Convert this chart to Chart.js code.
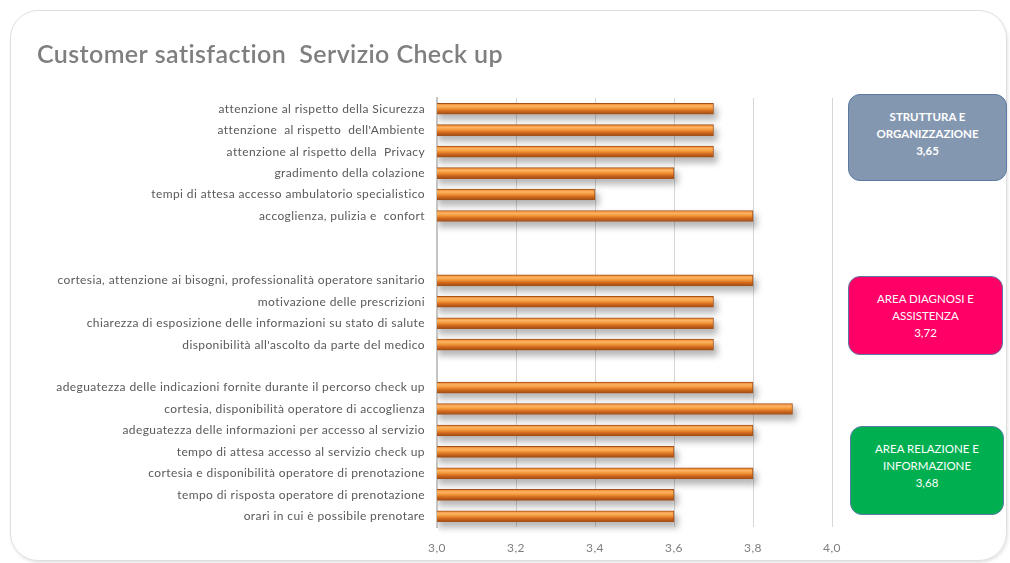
<!DOCTYPE html>
<html>
<head>
<meta charset="utf-8">
<script src="https://cdn.jsdelivr.net/npm/chart.js@4"></script>
<style>
  body { margin: 0; background: #fff; font-family: Lato, "Open Sans", sans-serif; }
  #wrap { position: relative; width: 1010px; height: 563px; overflow: hidden; }
  #frame {
    position: absolute; left: 10px; top: 10px; width: 995px; height: 549px;
    border: 1.5px solid #dedede; border-radius: 28px;
    box-shadow: 1px 2px 3px rgba(0,0,0,0.10);
  }
  #c { position: absolute; left: 0; top: 0; }
  .box {
    position: absolute; box-sizing: border-box; border: 1px solid #5b7aa3;
    border-radius: 12px; color: #fff; text-align: center;
    font-family: Lato, "Open Sans", sans-serif; font-size: 11.5px; line-height: 17px;
  }
</style>
</head>
<body>
<div id="wrap">
  <div id="frame"></div>
  <canvas id="c" width="1010" height="563"></canvas>
  <div class="box" style="left:848px;top:94px;width:159px;height:87px;background:#8497b0;font-weight:bold;padding-top:13px;">STRUTTURA E<br>ORGANIZZAZIONE<br>3,65</div>
  <div class="box" style="left:848px;top:276px;width:155px;height:79px;background:#ff0066;padding-top:13px;">AREA DIAGNOSI E<br>ASSISTENZA<br>3,72</div>
  <div class="box" style="left:850px;top:426px;width:154px;height:89px;background:#00b050;padding-top:13px;">AREA RELAZIONE E<br>INFORMAZIONE<br>3,68</div>
</div>
<script>
// rows from top to bottom, empty strings are the gaps between groups
var categories = [
  "attenzione al rispetto della Sicurezza",
  "attenzione  al rispetto  dell'Ambiente",
  "attenzione al rispetto della  Privacy",
  "gradimento della colazione",
  "tempi di attesa accesso ambulatorio specialistico",
  "accoglienza, pulizia e  confort",
  "",
  "",
  "cortesia, attenzione ai bisogni, professionalità operatore sanitario",
  "motivazione delle prescrizioni",
  "chiarezza di esposizione delle informazioni su stato di salute",
  "disponibilità all'ascolto da parte del medico",
  "",
  "adeguatezza delle indicazioni fornite durante il percorso check up",
  "cortesia, disponibilità operatore di accoglienza",
  "adeguatezza delle informazioni per accesso al servizio",
  "tempo di attesa accesso al servizio check up",
  "cortesia e disponibilità operatore di prenotazione",
  "tempo di risposta operatore di prenotazione",
  "orari in cui è possibile prenotare"
];
var values = [
  3.7, 3.7, 3.7, 3.6, 3.4, 3.8,
  null, null,
  3.8, 3.7, 3.7, 3.7,
  null,
  3.8, 3.9, 3.8, 3.6, 3.8, 3.6, 3.6
];
var xTicks = [3.0, 3.2, 3.4, 3.6, 3.8, 4.0];

function fmt(v) { return v.toFixed(1).replace(".", ","); }

// orange tube look: vertical gradient over each bar
function barFill(context) {
  var chart = context.chart;
  if (!chart.chartArea || !chart.scales.y) return "#f08a2c";
  var y = chart.scales.y.getPixelForValue(context.dataIndex);
  var g = chart.ctx.createLinearGradient(0, y - 5.5, 0, y + 5.5);
  g.addColorStop(0, "#ee7f22");
  g.addColorStop(0.25, "#fbb464");
  g.addColorStop(0.45, "#f59a3c");
  g.addColorStop(0.7, "#d36b1e");
  g.addColorStop(1, "#9c4a14");
  return g;
}

// spaced-out text like the original office export
var spacingPlugin = {
  id: "spacing",
  beforeDraw: function (chart) { chart.ctx.letterSpacing = "0.4px"; }
};

// soft grey shadow under every bar (bar draw clips, so paint it first)
var shadowPlugin = {
  id: "barShadow",
  beforeDatasetsDraw: function (chart) {
    var ctx = chart.ctx;
    var area = chart.chartArea;
    var meta = chart.getDatasetMeta(0);
    ctx.save();
    ctx.beginPath();
    ctx.rect(area.left + 1, area.top, area.right - area.left + 10, area.bottom - area.top + 10);
    ctx.clip();
    ctx.filter = "blur(3px)";
    ctx.fillStyle = "rgba(0,0,0,0.28)";
    meta.data.forEach(function (bar, i) {
      if (values[i] === null) return;
      var left = area.left;
      ctx.fillRect(left + 1, bar.y - 5.5 + 4, bar.x - left + 3, 13);
    });
    ctx.restore();
  }
};

new Chart(document.getElementById("c"), {
  type: "bar",
  data: {
    labels: categories,
    datasets: [{
      data: values,
      backgroundColor: barFill,
      borderColor: "#a4521a",
      borderWidth: 1,
      borderSkipped: false,
      barThickness: 11
    }]
  },
  plugins: [spacingPlugin, shadowPlugin],
  options: {
    indexAxis: "y",
    responsive: false,
    animation: false,
    layout: { padding: { left: 37, right: 178, top: 40, bottom: 0 } },
    plugins: {
      legend: { display: false },
      tooltip: { enabled: false },
      title: {
        display: true,
        text: "Customer satisfaction  Servizio Check up",
        align: "start",
        color: "#7f7f7f",
        font: { family: "Lato", size: 25, weight: "600" },
        padding: { top: 0, bottom: 28 }
      }
    },
    scales: {
      x: {
        min: 3,
        max: 4,
        afterBuildTicks: function (scale) {
          scale.ticks = xTicks.map(function (v) { return { value: v }; });
        },
        afterFit: function (scale) { scale.height = 36; },
        grid: { color: "#d6d6d6", lineWidth: 1, drawTicks: false },
        border: { display: false },
        ticks: {
          padding: 14,
          color: "#7f7f7f",
          font: { family: "Lato", size: 12 },
          callback: function (v) { return fmt(v); }
        }
      },
      y: {
        afterFit: function (scale) { scale.width = 400; },
        grid: { display: false, drawTicks: false },
        border: { display: true, color: "#c4c4c4", width: 2 },
        ticks: {
          padding: 12,
          autoSkip: false,
          color: "#595959",
          font: { family: "Lato", size: 12 }
        }
      }
    }
  }
});
</script>
</body>
</html>
